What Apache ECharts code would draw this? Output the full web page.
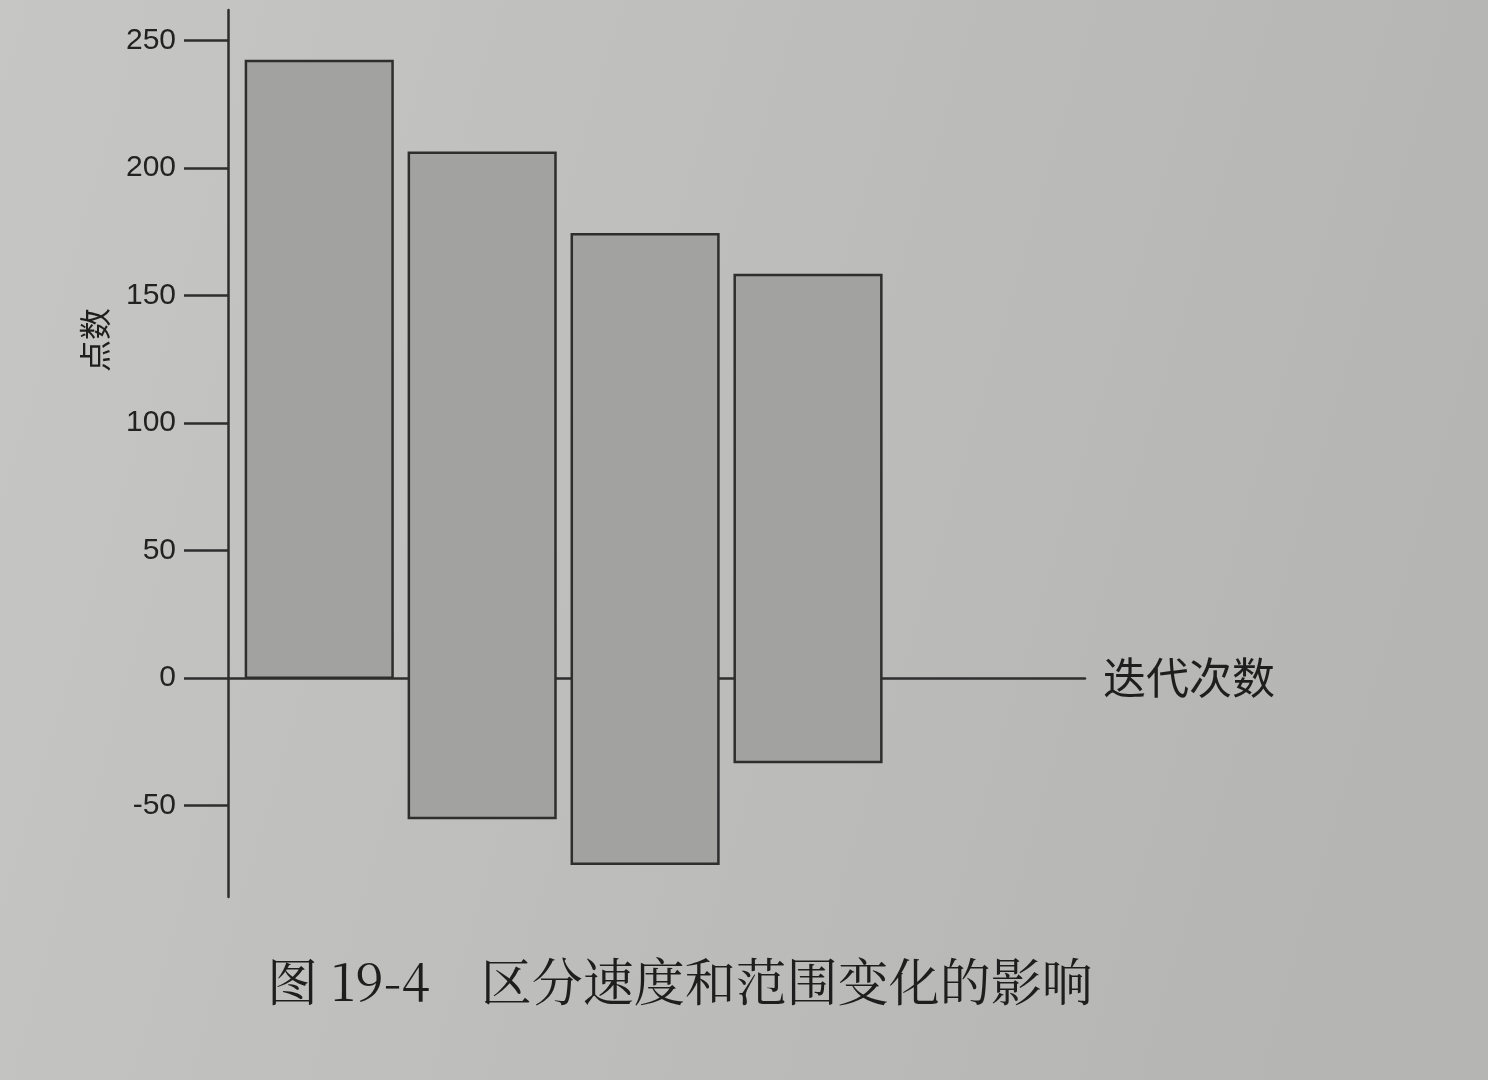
<!DOCTYPE html>
<html>
<head>
<meta charset="utf-8">
<title>图 19-4</title>
<script src="https://cdn.jsdelivr.net/npm/echarts@6/dist/echarts.min.js"></script>
<style>
  html, body { margin: 0; padding: 0; }
  #chart { width: 1488px; height: 1080px; }
</style>
</head>
<body>
<div id="chart"></div>
<script>
// iteration index of each bar
const iterations = [1, 2, 3, 4]
// bottom and top of each floating bar (点数)
const lowValues = [0, -55, -73, -33]
const highValues = [242, 206, 174, 158]
// y tick labels
const yTicks = [-50, 0, 50, 100, 150, 200, 250]

const inkColor = '#2e2e2e'
const barFill = '#a2a2a0'

const chart = echarts.init(document.getElementById('chart'))

const barData = iterations.map((it, i) => [it, lowValues[i], highValues[i]])

chart.setOption({
  animation: false,
  backgroundColor: {
    type: 'linear',
    x: 0, y: 0, x2: 1, y2: 0.4,
    colorStops: [
      { offset: 0, color: '#c6c6c4' },
      { offset: 1, color: '#b5b5b3' }
    ]
  },
  title: {
    text: '图 19-4\u3000区分速度和范围变化的影响',
    left: 262,
    top: 951,
    textStyle: {
      fontFamily: 'Noto Serif CJK SC, Noto Sans CJK SC',
      fontSize: 51,
      fontWeight: 'normal',
      color: '#1e1e1e'
    }
  },
  grid: {
    left: 228,
    right: 403,
    top: 10,
    bottom: 183
  },
  xAxis: {
    type: 'value',
    min: 0.44,
    max: 5.7,
    name: '迭代次数',
    nameLocation: 'end',
    nameGap: 18,
    nameTextStyle: {
      fontFamily: 'Noto Sans CJK SC',
      fontSize: 43,
      color: '#1e1e1e'
    },
    axisLine: {
      onZero: true,
      lineStyle: { color: inkColor, width: 2.5 }
    },
    axisTick: { show: false },
    axisLabel: { show: false },
    splitLine: { show: false }
  },
  yAxis: {
    type: 'value',
    min: -86,
    max: 262,
    axisLine: {
      show: true,
      lineStyle: { color: inkColor, width: 2.5 }
    },
    axisTick: {
      show: true,
      length: 44,
      customValues: yTicks,
      lineStyle: { color: inkColor, width: 2.5 }
    },
    axisLabel: {
      customValues: yTicks,
      margin: 52,
      fontFamily: 'Liberation Sans',
      fontSize: 30,
      color: '#222'
    },
    splitLine: { show: false }
  },
  graphic: [
    {
      type: 'text',
      x: 95,
      y: 340,
      rotation: Math.PI / 2,
      style: {
        text: '点数',
        fontFamily: 'Noto Sans CJK SC',
        fontSize: 32,
        fill: '#1e1e1e',
        align: 'center',
        verticalAlign: 'middle'
      }
    }
  ],
  series: [
    {
      type: 'custom',
      encode: { x: 0, y: [1, 2] },
      data: barData,
      renderItem(params, api) {
        const x = api.value(0)
        const bottom = api.coord([x, api.value(1)])
        const top = api.coord([x, api.value(2)])
        const w = api.size([0.9, 0])[0]
        return {
          type: 'rect',
          shape: {
            x: bottom[0] - w / 2,
            y: top[1],
            width: w,
            height: bottom[1] - top[1]
          },
          style: {
            fill: barFill,
            stroke: inkColor,
            lineWidth: 2.5
          }
        }
      }
    }
  ]
})
</script>
</body>
</html>
